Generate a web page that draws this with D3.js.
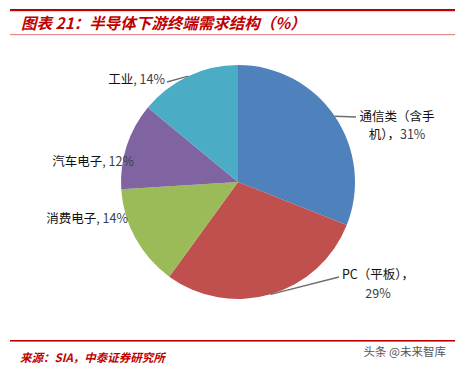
<!DOCTYPE html>
<html>
<head>
<meta charset="UTF-8">
<title>半导体下游终端需求结构</title>
<style>
  body { margin: 0; background: #fff; }
  svg text { font-family: "Noto Sans CJK SC", "Noto Sans", sans-serif; }
</style>
</head>
<body>
<svg id="chart"></svg>
<script src="https://d3js.org/d3.v7.min.js"></script>
<script>
// data
var categories = ['通信类（含手机）', 'PC（平板）', '消费电子', '汽车电子', '工业'];
var values = [31, 29, 14, 12, 14];
var colors = ['#4F81BD', '#C0504D', '#9BBB59', '#8064A2', '#4BACC6'];

// label layout: text lines, anchor point, leader end
var labelLayout = [
  { lines: [['通信类（含手', ''], ['机），', '31%']], x: 397, y: 121, dy: 18, anchor: 'middle', lead: [356, 117] },
  { lines: [['PC（平板），', ''], ['', '29%']], x: 378, y: 279, dy: 19, anchor: 'middle', lead: [339, 277] },
  { lines: [['消费电子', ', 14%']], x: 128, y: 223, anchor: 'end' },
  { lines: [['汽车电子', ', 12%']], x: 134, y: 166, anchor: 'end' },
  { lines: [['工业', ', 14%']], x: 165, y: 84, anchor: 'end', lead: [167, 82] }
];

var W = 455, H = 367;
var cx = 238, cy = 182, R = 117;

var svg = d3.select('#chart').attr('width', W).attr('height', H);

// header
svg.append('rect').attr('x', 10).attr('y', 9).attr('width', 445).attr('height', 2.2).attr('fill', '#C00000');
svg.append('text').attr('x', 21).attr('y', 29)
  .attr('font-size', 15.5).attr('font-style', 'italic').attr('font-weight', 'bold')
  .attr('fill', '#C00000')
  .text('图表 21：半导体下游终端需求结构（%）');
svg.append('rect').attr('x', 10).attr('y', 34).attr('width', 445).attr('height', 1.2).attr('fill', '#E38A8A');

// pie
var pie = d3.pie().sort(null).value(function (d) { return d; });
var arcs = pie(values);
var arc = d3.arc().innerRadius(0).outerRadius(R);
var edge = d3.arc().innerRadius(R).outerRadius(R);

var g = svg.append('g').attr('transform', 'translate(' + cx + ',' + cy + ')');
g.selectAll('path').data(arcs).enter().append('path')
  .attr('d', arc)
  .attr('fill', function (d, i) { return colors[i]; });

// leader lines
arcs.forEach(function (d, i) {
  var L = labelLayout[i];
  if (!L.lead) return;
  var p = edge.centroid(d);
  svg.append('line')
    .attr('x1', cx + p[0]).attr('y1', cy + p[1])
    .attr('x2', L.lead[0]).attr('y2', L.lead[1])
    .attr('stroke', '#6d6d6d').attr('stroke-width', 1.3);
});

// labels
labelLayout.forEach(function (L) {
  L.lines.forEach(function (ln, k) {
    var t = svg.append('text')
      .attr('x', L.x).attr('y', L.y + k * (L.dy || 0))
      .attr('text-anchor', L.anchor)
      .attr('font-size', 12.5);
    t.append('tspan').attr('fill', '#111').text(ln[0]);
    if (ln[1]) t.append('tspan').attr('fill', '#3a3f4a').text(ln[1]);
  });
});

// footer
svg.append('rect').attr('x', 10).attr('y', 340).attr('width', 445).attr('height', 1.6).attr('fill', '#C00000');
svg.append('text').attr('x', 20).attr('y', 362)
  .attr('font-size', 11.5).attr('font-style', 'italic').attr('font-weight', 'bold')
  .attr('fill', '#C00000')
  .text('来源：SIA，中泰证券研究所');
svg.append('text').attr('x', 446).attr('y', 356)
  .attr('text-anchor', 'end').attr('font-size', 11.5).attr('fill', '#555')
  .text('头条 @未来智库');
</script>
</body>
</html>
